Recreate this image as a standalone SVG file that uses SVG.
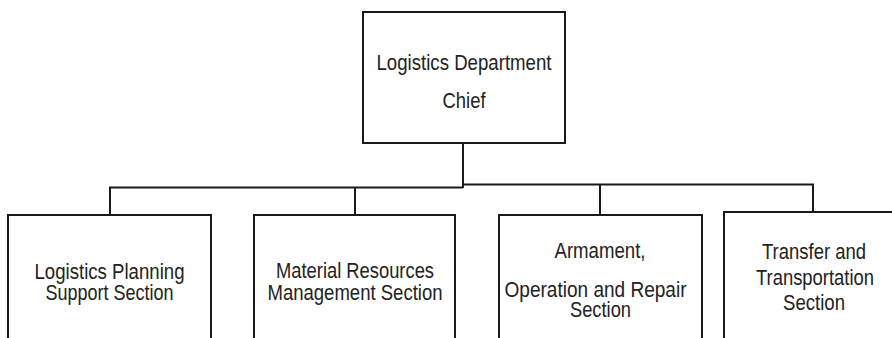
<svg xmlns="http://www.w3.org/2000/svg" width="892" height="338" viewBox="0 0 892 338">
<style>
.box{fill:#fff;stroke:#1a1a1a;stroke-width:2}
.ln{fill:none;stroke:#1a1a1a;stroke-width:2}
.t{font-family:"Liberation Sans",Arial,sans-serif;font-size:22px;fill:#222;text-anchor:middle}
</style>
<rect width="892" height="338" fill="#fff"/>
<g id="connectors">
<line class="ln" x1="463" y1="143" x2="463" y2="188" stroke-width="2.5"/>
<line class="ln" x1="109" y1="187.5" x2="463" y2="187.5"/>
<line class="ln" x1="463" y1="184.5" x2="814" y2="184.5"/>
<line class="ln" x1="110" y1="187" x2="110" y2="215"/>
<line class="ln" x1="355" y1="187" x2="355" y2="215"/>
<line class="ln" x1="600" y1="184" x2="600" y2="215"/>
<line class="ln" x1="813" y1="184" x2="813" y2="212"/>
</g>
<g id="chief">
<rect class="box" x="363" y="12" width="202" height="131"/>
<text class="t" x="464" y="70" textLength="175" lengthAdjust="spacingAndGlyphs">Logistics Department</text>
<text class="t" x="464" y="108" textLength="43" lengthAdjust="spacingAndGlyphs">Chief</text>
</g>
<g id="planning">
<path class="box" d="M8 339V215H211V339"/>
<text class="t" x="109.5" y="279" textLength="150" lengthAdjust="spacingAndGlyphs">Logistics Planning</text>
<text class="t" x="109.5" y="300" textLength="128" lengthAdjust="spacingAndGlyphs">Support Section</text>
</g>
<g id="material">
<path class="box" d="M254 339V215H455V339"/>
<text class="t" x="355" y="278" textLength="158" lengthAdjust="spacingAndGlyphs">Material Resources</text>
<text class="t" x="355" y="300" textLength="175" lengthAdjust="spacingAndGlyphs">Management Section</text>
</g>
<g id="armament">
<path class="box" d="M499 339V215H702V339"/>
<text class="t" x="600" y="258" textLength="91" lengthAdjust="spacingAndGlyphs">Armament,</text>
<text class="t" x="595.5" y="297" textLength="182" lengthAdjust="spacingAndGlyphs">Operation and Repair</text>
<text class="t" x="600.5" y="317" textLength="61" lengthAdjust="spacingAndGlyphs">Section</text>
</g>
<g id="transfer">
<path class="box" d="M724 339V212H892"/>
<text class="t" x="814" y="259" textLength="104" lengthAdjust="spacingAndGlyphs">Transfer and</text>
<text class="t" x="815" y="285" textLength="118" lengthAdjust="spacingAndGlyphs">Transportation</text>
<text class="t" x="814" y="310" textLength="62" lengthAdjust="spacingAndGlyphs">Section</text>
</g>
</svg>
